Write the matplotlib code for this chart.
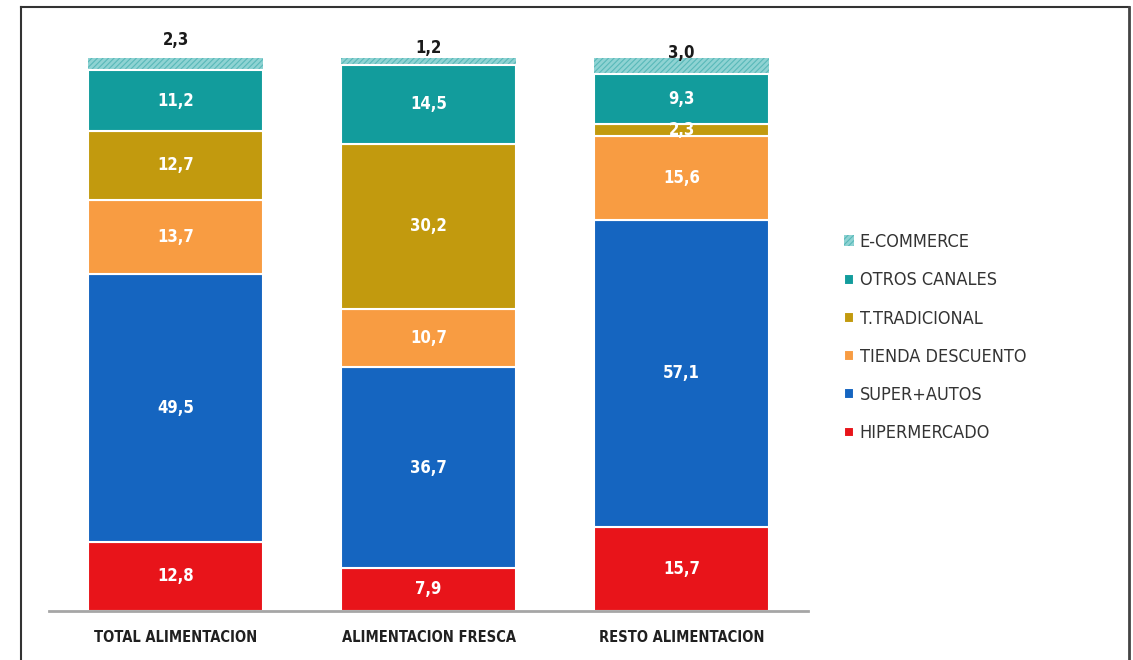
import matplotlib
matplotlib.use('Agg')
import matplotlib.pyplot as plt
import numpy as np

plt.rcParams['font.family'] = ['DejaVu Sans']
plt.rcParams['font.stretch'] = 'condensed'
plt.rcParams['hatch.linewidth'] = 0.8

categories = ['TOTAL ALIMENTACION', 'ALIMENTACION FRESCA', 'RESTO ALIMENTACION']
series = ['HIPERMERCADO', 'SUPER+AUTOS', 'TIENDA DESCUENTO',
          'T.TRADICIONAL', 'OTROS CANALES', 'E-COMMERCE']
hipermercado = [12.8, 7.9, 15.7]
super_autos = [49.5, 36.7, 57.1]
tienda_descuento = [13.7, 10.7, 15.6]
t_tradicional = [12.7, 30.2, 2.3]
otros_canales = [11.2, 14.5, 9.3]
e_commerce = [2.3, 1.2, 3.0]

colors = ['#E8141A', '#1565C0', '#F89C42', '#C29A0E', '#129C9C', '#8FD3D3']

values = np.array([hipermercado, super_autos, tienda_descuento,
                   t_tradicional, otros_canales, e_commerce])
# each column stacked to 100 %
shares = values / values.sum(axis=0) * 100

fig = plt.figure(figsize=(11.33, 6.6), dpi=100)
ax = fig.add_axes([49 / 1133, 49 / 660, 759 / 1133, 553 / 660])

x = np.arange(len(categories))
width = 0.69
bottom = np.zeros(len(categories))
handles = []
for i, name in enumerate(series):
    if name == 'E-COMMERCE':
        bars = ax.bar(x, shares[i], width, bottom=bottom, color=colors[i],
                      edgecolor='#58B9B9', linewidth=0, hatch='//////',
                      zorder=1, label=name)
    else:
        bars = ax.bar(x, shares[i], width, bottom=bottom, color=colors[i],
                      edgecolor='white', linewidth=1.5, zorder=2, label=name)
    handles.append(bars)
    if name != 'E-COMMERCE':
        for j in range(len(categories)):
            txt = f'{values[i, j]:.1f}'.replace('.', ',')
            ax.text(x[j], bottom[j] + shares[i, j] / 2, txt, ha='center',
                    va='center', color='white', fontsize=12,
                    fontweight='bold', zorder=5)
    bottom += shares[i]

# e-commerce values sit above the bars
top_offsets = [13, 7, 3.5]
for j in range(len(categories)):
    txt = f'{e_commerce[j]:.1f}'.replace('.', ',')
    ax.annotate(txt, (x[j], 100), xytext=(0, top_offsets[j]),
                textcoords='offset points', ha='center', va='center',
                fontsize=12, fontweight='bold', color='#1a1a1a',
                annotation_clip=False, zorder=6)

ax.set_xlim(-0.5, 2.5)
ax.set_ylim(0, 100)
ax.set_yticks([])
ax.set_xticks(x)
ax.set_xticklabels(categories, fontsize=10.5, fontweight='bold', color='#202020')
ax.tick_params(axis='x', length=0, pad=14)
for side in ['top', 'right', 'left']:
    ax.spines[side].set_visible(False)
ax.spines['bottom'].set_color('#A6A6A6')
ax.spines['bottom'].set_linewidth(2)

leg = fig.legend(handles[::-1], series[::-1], loc='upper left',
                 bbox_to_anchor=(828 / 1133, 1 - 217 / 660), frameon=False,
                 fontsize=13, handlelength=0.55, handleheight=0.55,
                 handletextpad=0.3, labelspacing=1.12)
for t in leg.get_texts():
    t.set_color('#333333')

# outer frame
fig.add_artist(plt.Line2D([21 / 1133, 21 / 1133], [0, 1 - 7 / 660],
                          transform=fig.transFigure, color='#333333', lw=1.5))
fig.add_artist(plt.Line2D([21 / 1133, 1129 / 1133], [1 - 7 / 660, 1 - 7 / 660],
                          transform=fig.transFigure, color='#333333', lw=1.5))
fig.add_artist(plt.Line2D([1129 / 1133, 1129 / 1133], [0, 1 - 7 / 660],
                          transform=fig.transFigure, color='#444444', lw=2))

fig.savefig('out.png', dpi=100)
